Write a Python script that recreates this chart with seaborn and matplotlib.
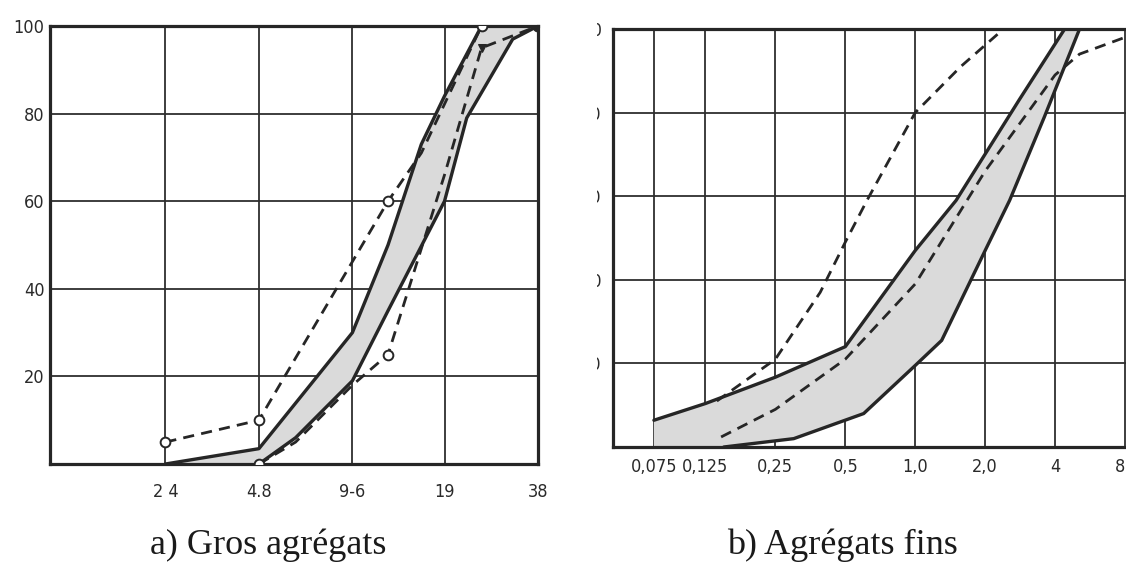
import numpy as np
import pandas as pd
import matplotlib
matplotlib.use("Agg")
import matplotlib.pyplot as plt
import seaborn as sns
from matplotlib.patches import Rectangle
from matplotlib.ticker import FixedLocator, NullLocator, FixedFormatter

sns.set_style("white")
plt.rcParams['font.family'] = ['DejaVu Sans']
plt.rcParams['hatch.color'] = '#4a4a4a'
plt.rcParams['hatch.linewidth'] = 0.8

# ---------------- data : a) coarse aggregates ----------------
coarse_sieves = [2.4, 4.8, 9.6, 19, 38]
coarse_labels = ["2 4", "4.8", "9-6", "19", "38"]
pct_ticks = [20, 40, 60, 80, 100]
pct_labels = ["20", "40", "60", "80", "100"]

a_x = [2.4, 4.8, 12.5, 16, 25, 38]          # dashed, open circles
a_y = [5, 10, 60, 71, 100, 100]
b_x = [2.4, 4.8, 9.6, 12.5, 16, 19, 25, 38]  # solid upper limit
b_y = [0, 3.5, 30, 50, 73, 84, 100, 100]
c_x = [4.8, 6.3, 9.6, 12.5, 19, 22.4, 31.5, 38]  # solid lower limit
c_y = [0, 6, 19, 35, 60, 79, 97, 100]
d_x = [4.8, 6.3, 9.6, 12.5, 19, 25, 38]      # dashed lower
d_y = [0, 5, 18, 25, 66, 95, 100]

# ---------------- data : b) fine aggregates ----------------
fine_sieves = [0.075, 0.125, 0.25, 0.5, 1.0, 2.0, 4, 8]
fine_labels = ["0,075", "0,125", "0,25", "0,5", "1,0", "2,0", "4", "8"]

e_x = [0.075, 0.125, 0.25, 0.5, 1.0, 1.5, 2.8, 4.4]   # solid upper limit
e_y = [6.4, 10.4, 16.7, 24, 47, 59, 83, 100]
f_x = [0.15, 0.3, 0.6, 1.0, 1.3, 2.0, 2.55, 3.6, 5.1]  # solid lower limit
f_y = [0, 2, 8, 19.5, 25.5, 47, 59, 79, 100]
g_x = [0.146, 0.25, 0.5, 1.0, 2.0, 4.0, 5.1, 8.0]      # dashed middle
g_y = [2.4, 9, 21, 39, 66, 89, 94, 98]
h_x = [0.14, 0.25, 0.39, 0.5, 0.62, 1.0, 1.57, 2.4]    # dashed upper
h_y = [11, 21, 37, 49, 59, 80, 91, 100]

caption_a = "a) Gros agrégats"
caption_b = "b) Agrégats fins"

# ---------------- figure ----------------
W, H = 1126, 571
fig = plt.figure(figsize=(W / 100, H / 100), dpi=100)
fig.patch.set_facecolor("white")

ink = "#262626"
dash = (0, (4, 2.6))


def px_axes(l, r, t, b):
    return [l / W, (H - b) / H, (r - l) / W, (b - t) / H]


ax1 = fig.add_axes(px_axes(50, 538, 26, 464))
ax2 = fig.add_axes(px_axes(613, 1135.5, 29, 447))


def style_axes(ax, xt, xl, xlim, xpad, ypad):
    ax.set_xscale("log", base=2)
    ax.set_xlim(*xlim)
    ax.set_ylim(0, 100)
    ax.xaxis.set_major_locator(FixedLocator(xt))
    ax.xaxis.set_major_formatter(FixedFormatter(xl))
    ax.xaxis.set_minor_locator(NullLocator())
    ax.yaxis.set_major_locator(FixedLocator(pct_ticks))
    ax.yaxis.set_major_formatter(FixedFormatter(pct_labels))
    ax.grid(True, color="#2e2e2e", lw=1.3)
    for s in ax.spines.values():
        s.set_visible(True)
        s.set_color(ink)
        s.set_linewidth(2.3)
    ax.tick_params(axis="both", length=0, labelsize=13, labelcolor="#2a2a2a")
    ax.tick_params(axis="x", pad=xpad)
    ax.tick_params(axis="y", pad=ypad)
    for lbl in ax.get_xticklabels() + ax.get_yticklabels():
        lbl.set_fontstretch("condensed")
    ax.set_xlabel("")
    ax.set_ylabel("")


# ---- panel a ----
ax1.fill(b_x + c_x[::-1], b_y + c_y[::-1], facecolor="#dadada",
         edgecolor="none", hatch="....", zorder=1.5)
sns.lineplot(x=b_x, y=b_y, ax=ax1, sort=False, estimator=None, color=ink, lw=2.4, zorder=3)
sns.lineplot(x=c_x, y=c_y, ax=ax1, sort=False, estimator=None, color=ink, lw=2.4, zorder=3,
             marker="o", markevery=[len(c_x) - 1], ms=8, mfc=ink, mec=ink)
sns.lineplot(x=a_x, y=a_y, ax=ax1, sort=False, estimator=None, color=ink, lw=2.0,
             linestyle=dash, zorder=3, marker="o", ms=7, mfc="white", mec=ink, mew=1.4,
             markevery=[0, 1, 2, 4])
sns.lineplot(x=d_x, y=d_y, ax=ax1, sort=False, estimator=None, color=ink, lw=2.0,
             linestyle=dash, zorder=3, marker="o", ms=7, mfc="white", mec=ink, mew=1.4,
             markevery=[0, 3])
sns.lineplot(x=[d_x[5]], y=[d_y[5]], ax=ax1, estimator=None, color=ink, lw=0,
             marker="v", ms=6, mfc=ink, mec=ink, zorder=4)
style_axes(ax1, coarse_sieves, coarse_labels, (1.02, 38), 14, 4)

# ---- panel b ----
ax2.fill(e_x + f_x[::-1] + [e_x[0]], e_y + f_y[::-1] + [0], facecolor="#dadada",
         edgecolor="none", hatch="....", zorder=1.5)
sns.lineplot(x=e_x, y=e_y, ax=ax2, sort=False, estimator=None, color=ink, lw=2.4, zorder=3)
sns.lineplot(x=f_x, y=f_y, ax=ax2, sort=False, estimator=None, color=ink, lw=2.4, zorder=3)
sns.lineplot(x=g_x, y=g_y, ax=ax2, sort=False, estimator=None, color=ink, lw=2.0,
             linestyle=dash, zorder=3)
sns.lineplot(x=h_x, y=h_y, ax=ax2, sort=False, estimator=None, color=ink, lw=2.0,
             linestyle=dash, zorder=3)
style_axes(ax2, fine_sieves, fine_labels, (0.05, 8.88), 8, 8)
# last label sits on the cut edge of the scan: keep it inside the picture
ax2.get_xticklabels()[-1].set_horizontalalignment("right")

# mask: the right panel's y labels are cut in the original scan
fig.add_artist(Rectangle((552 / W, 0.0), (597 - 552) / W, 1.0,
                         transform=fig.transFigure, facecolor="white",
                         edgecolor="none", zorder=10))

fig.text(268 / W, (H - 545) / H, caption_a, ha="center", va="center",
         family=["Liberation Serif", "DejaVu Serif"], fontsize=26, color="#1a1a1a")
fig.text(842 / W, (H - 545) / H, caption_b, ha="center", va="center",
         family=["Liberation Serif", "DejaVu Serif"], fontsize=26, color="#1a1a1a")

fig.savefig("out.png", dpi=100, facecolor="white")
